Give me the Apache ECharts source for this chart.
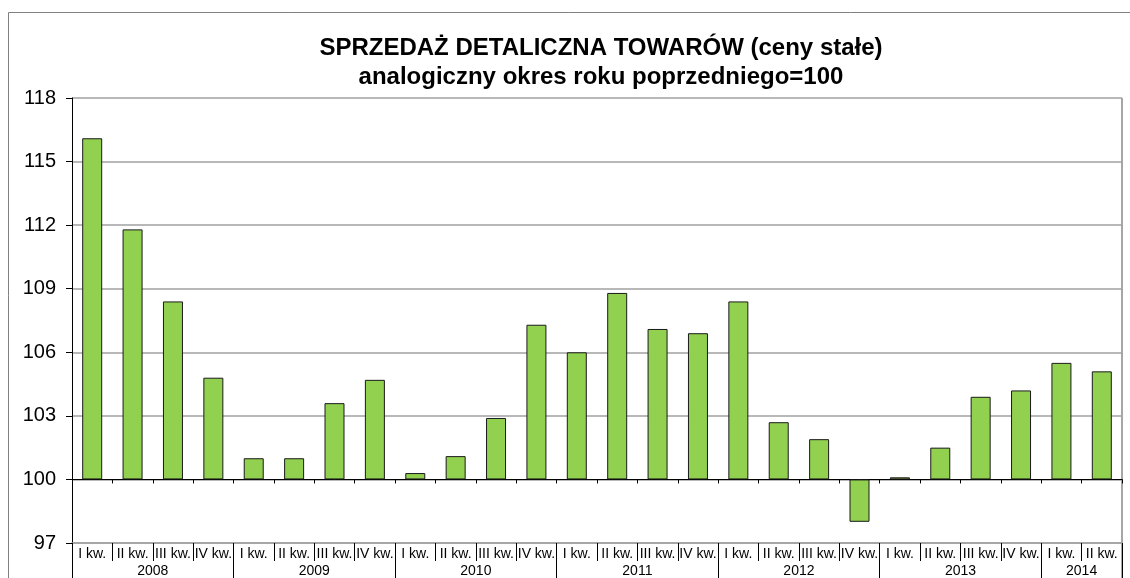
<!DOCTYPE html>
<html>
<head>
<meta charset="utf-8">
<script src="https://cdn.jsdelivr.net/npm/echarts@6/dist/echarts.min.js"></script>
<style>
html, body {margin: 0; padding: 0; background: #fff;}
#chart {width: 1130px; height: 578px;}
</style>
</head>
<body>
<div id="chart"></div>
<script>
// dane kwartalne, analogiczny okres roku poprzedniego=100
var years = ['2008', '2009', '2010', '2011', '2012', '2013', '2014'];
var quartersInYear = [4, 4, 4, 4, 4, 4, 2];
var quarterNames = ['I kw.', 'II kw.', 'III kw.', 'IV kw.'];
var values = [
	116.1, 111.8, 108.4, 104.8,
	101.0, 101.0, 103.6, 104.7,
	100.3, 101.1, 102.9, 107.3,
	106.0, 108.8, 107.1, 106.9,
	108.4, 102.7, 101.9, 98.0,
	100.1, 101.5, 103.9, 104.2,
	105.5, 105.1
];
var baseValue = 100;
var yMin = 97, yMax = 118, yStep = 3;

// kategorie kwartalne
var quarterCats = [];
for (var y = 0; y < years.length; y++) {
	for (var q = 0; q < quartersInYear[y]; q++) {
		quarterCats.push(quarterNames[q]);
	}
}

// os lat: pol-kwartaly, etykieta w srodku roku, kreska na granicy roku
var halfCats = [];
var yearLabelAt = {};
var yearTickAt = {0: true};
var pos = 0;
for (var y = 0; y < years.length; y++) {
	yearLabelAt[pos + quartersInYear[y]] = years[y];
	pos += quartersInYear[y] * 2;
	yearTickAt[pos] = true;
}
for (var i = 0; i <= pos; i++) {
	halfCats.push(yearLabelAt[i] || '');
}

var barData = values.map(function(v){ return +(v - baseValue).toFixed(2); });

var option = {
	animation: false,
	textStyle: {fontFamily: 'Liberation Sans, Arial, sans-serif'},
	title: {
		text: 'SPRZEDAŻ DETALICZNA TOWARÓW (ceny stałe)\nanalogiczny okres roku poprzedniego=100',
		left: 596, top: 29, textAlign: 'center',
		textStyle: {fontSize: 24, fontWeight: 'bold', color: '#000', lineHeight: 29}
	},
	graphic: [{
		type: 'rect', silent: true,
		shape: {x: 8.5, y: 12.5, width: 1200, height: 700},
		style: {fill: 'none', stroke: '#808080', lineWidth: 1}
	}, {
		type: 'line', silent: true,
		shape: {x1: 1122, y1: 98, x2: 1122, y2: 578},
		style: {stroke: '#a6a6a6', lineWidth: 2}
	}],
	grid: {left: 72, right: 8, top: 98, bottom: 33},
	yAxis: {
		type: 'value',
		min: yMin - baseValue, max: yMax - baseValue, interval: yStep,
		axisLine: {show: true, lineStyle: {color: '#000', width: 1}},
		axisTick: {show: true, length: 6, lineStyle: {color: '#000'}},
		axisLabel: {
			fontSize: 20, color: '#000', margin: 16,
			formatter: function(v){ return v + baseValue; }
		},
		splitLine: {lineStyle: {color: '#a0a0a0', width: 1.5}}
	},
	xAxis: [{
		// os na poziomie 100
		type: 'category', data: quarterCats,
		axisLine: {onZero: true, lineStyle: {color: '#000', width: 1}},
		axisTick: {show: true, length: 4, interval: 0, lineStyle: {color: '#000'}},
		axisLabel: {show: false}
	}, {
		// etykiety kwartalow
		type: 'category', data: quarterCats, position: 'bottom',
		axisLine: {onZero: false, lineStyle: {color: '#a0a0a0', width: 1.5}},
		axisTick: {show: true, length: 18, interval: 0, lineStyle: {color: '#000'}},
		axisLabel: {fontSize: 14, color: '#000', margin: 4, interval: 0, hideOverlap: false}
	}, {
		// etykiety lat
		type: 'category', data: halfCats, position: 'bottom', boundaryGap: false,
		axisLine: {show: false, onZero: false},
		axisTick: {
			show: true, length: 40, lineStyle: {color: '#000'},
			interval: function(idx){ return !!yearTickAt[idx]; }
		},
		axisLabel: {
			fontSize: 14, color: '#000', margin: 21, hideOverlap: false,
			interval: function(idx, val){ return val !== ''; }
		}
	}],
	series: [{
		name: 'sprzedaż',
		type: 'bar',
		xAxisIndex: 0,
		barWidth: 20,
		itemStyle: {color: '#92d050', borderColor: '#1a1a1a', borderWidth: 1},
		data: barData
	}]
};

var myChart = echarts.init(document.getElementById('chart'));
myChart.setOption(option);
</script>
</body>
</html>
